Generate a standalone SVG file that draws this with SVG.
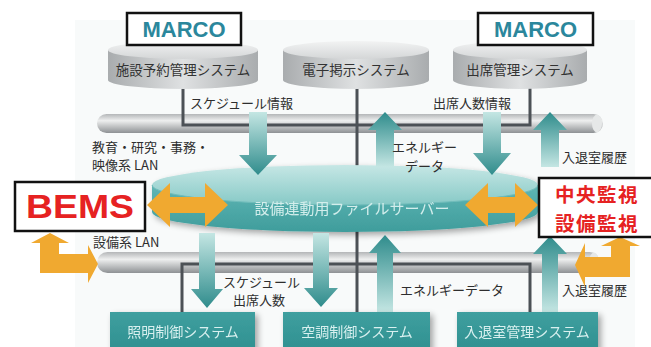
<svg xmlns="http://www.w3.org/2000/svg" width="651" height="347" viewBox="0 0 651 347">
<defs>
<linearGradient id="cylBody" x1="0" y1="0" x2="1" y2="0">
<stop offset="0" stop-color="#a9acae"/><stop offset="0.5" stop-color="#dfe1e2"/><stop offset="1" stop-color="#a9acae"/>
</linearGradient>
<linearGradient id="cylTop" x1="0" y1="0" x2="0" y2="1">
<stop offset="0" stop-color="#f2f3f3"/><stop offset="1" stop-color="#d4d6d7"/>
</linearGradient>
<linearGradient id="pipe" x1="0" y1="0" x2="0" y2="1">
<stop offset="0" stop-color="#b4b6b8"/><stop offset="0.35" stop-color="#eeefef"/><stop offset="0.6" stop-color="#c9cbcc"/><stop offset="1" stop-color="#8e9194"/>
</linearGradient>
<linearGradient id="down" x1="0" y1="0" x2="0" y2="1">
<stop offset="0" stop-color="#c4e6e3"/><stop offset="1" stop-color="#2f8c8c"/>
</linearGradient>
<linearGradient id="up" x1="0" y1="1" x2="0" y2="0">
<stop offset="0" stop-color="#c4e6e3"/><stop offset="1" stop-color="#2f8c8c"/>
</linearGradient>
<linearGradient id="srvSide" x1="0" y1="0" x2="0" y2="1">
<stop offset="0" stop-color="#5fb5b4"/><stop offset="1" stop-color="#3f9d9c"/>
</linearGradient>
<linearGradient id="srvTop" x1="0" y1="0" x2="0" y2="1">
<stop offset="0" stop-color="#c6e7e5"/><stop offset="1" stop-color="#86c9c6"/>
</linearGradient>
<linearGradient id="boxG" x1="0" y1="0" x2="0" y2="1">
<stop offset="0" stop-color="#3f9f9f"/><stop offset="1" stop-color="#2f9090"/>
</linearGradient>
<filter id="sh" x="-10%" y="-20%" width="130%" height="160%">
<feGaussianBlur in="SourceAlpha" stdDeviation="3"/><feOffset dx="3" dy="3"/>
<feComponentTransfer><feFuncA type="linear" slope="0.35"/></feComponentTransfer>
<feMerge><feMergeNode/><feMergeNode in="SourceGraphic"/></feMerge>
</filter>
</defs>
<style>
.jp{font-family:"Noto Sans CJK JP","Noto Sans",sans-serif;}
.lbl{font-size:13px;fill:#2e2e2e;}
.cyl{font-size:13.5px;fill:#333;}
.boxt{font-size:14px;fill:#d8f0ef;}
.line{fill:none;stroke:#4c5156;stroke-width:3;}
.org{fill:#f0a930;}
.frame{fill:#fff;stroke:#111;stroke-width:2.5;}
.red{font-size:19.5px;font-weight:bold;fill:#e62222;letter-spacing:1.5px;}
</style>
<rect x="0" y="0" width="651" height="347" fill="#fff"/>
<rect x="75" y="20" width="560" height="327" fill="#f8fafa"/>

<!-- pipes -->
<g id="lan-upper">
<rect x="97" y="114" width="506" height="19" rx="9.5" fill="url(#pipe)"/>
<ellipse cx="597" cy="123.5" rx="5" ry="9" fill="#e6e8e8"/>
</g>
<g id="lan-lower">
<rect x="97" y="252" width="503" height="21" rx="10.5" fill="url(#pipe)"/>
<ellipse cx="594" cy="262.5" rx="5" ry="10" fill="#e6e8e8"/>
</g>

<!-- connector lines -->
<g id="connectors">
<path class="line" d="M183,86 V125 H530 V86"/>
<path class="line" d="M357,88 V312"/>
<path class="line" d="M182,312 V264 H530 V312"/>
</g>

<!-- top cylinders -->
<g id="cyl-shisetsu">
<path d="M108,50 V80 A75,9 0 0 0 258,80 V50 Z" fill="url(#cylBody)"/>
<ellipse cx="183" cy="50" rx="75" ry="9" fill="url(#cylTop)"/>
<text class="jp cyl" x="183" y="75" text-anchor="middle">施設予約管理システム</text>
</g>
<g id="cyl-denshi">
<path d="M283,50 V80 A73,9 0 0 0 429,80 V50 Z" fill="url(#cylBody)"/>
<ellipse cx="356" cy="50" rx="73" ry="9" fill="url(#cylTop)"/>
<text class="jp cyl" x="356" y="75" text-anchor="middle">電子掲示システム</text>
</g>
<g id="cyl-shusseki">
<path d="M453,50 V80 A67,9 0 0 0 587,80 V50 Z" fill="url(#cylBody)"/>
<ellipse cx="520" cy="50" rx="67" ry="9" fill="url(#cylTop)"/>
<text class="jp cyl" x="520" y="75" text-anchor="middle">出席管理システム</text>
</g>

<!-- MARCO labels -->
<g id="marco1">
<rect class="frame" x="127" y="13" width="114" height="32"/>
<text x="184" y="37" text-anchor="middle" font-family="Liberation Sans,Arial,sans-serif" font-weight="bold" font-size="22" fill="#2b879c">MARCO</text>
</g>
<g id="marco2">
<rect class="frame" x="478" y="13" width="115" height="32"/>
<text x="535.5" y="37" text-anchor="middle" font-family="Liberation Sans,Arial,sans-serif" font-weight="bold" font-size="22" fill="#2b879c">MARCO</text>
</g>

<!-- server -->
<g id="server" filter="url(#sh)">
<path d="M152,185 V212 A193,20 0 0 0 538,212 V185 Z" fill="url(#srvSide)"/>
<ellipse cx="345" cy="185" rx="193" ry="20" fill="url(#srvTop)"/>
<path d="M152,185 A193,20 0 0 0 538,185" fill="none" stroke="#6fbcba" stroke-width="1"/>
<text class="jp" x="352" y="214" text-anchor="middle" font-size="15" fill="#d3eeec">設備連動用ファイルサーバー</text>
</g>

<!-- teal arrows -->
<g id="teal-arrows">
<path d="M249,112 H267 V155 H277 L258,175 L239,155 H249 Z" fill="url(#down)"/>
<path d="M483,112 H501 V153 H511 L492,175 L473,153 H483 Z" fill="url(#down)"/>
<path d="M385,112 L402,130 H394 V167 H376 V130 H368 Z" fill="url(#up)"/>
<path d="M550,112 L567,130 H559 V167 H541 V130 H533 Z" fill="url(#up)"/>
<path d="M199,233 H215 V289 H223 L207,308 L191,289 H199 Z" fill="url(#down)"/>
<path d="M313,233 H329 V288 H338 L321,307 L304,288 H313 Z" fill="url(#down)"/>
<path d="M385,235 L401,253 H393 V312 H377 V253 H369 Z" fill="url(#up)"/>
<path d="M550,236 L567,254 H558 V312 H542 V254 H533 Z" fill="url(#up)"/>
</g>

<!-- bottom boxes -->
<g id="box-shomei" filter="url(#sh)">
<rect x="110" y="312" width="145" height="40" fill="url(#boxG)"/>
<text class="jp boxt" x="183" y="337" text-anchor="middle">照明制御システム</text>
</g>
<g id="box-kucho" filter="url(#sh)">
<rect x="283" y="312" width="147" height="40" fill="url(#boxG)"/>
<text class="jp boxt" x="357" y="337" text-anchor="middle">空調制御システム</text>
</g>
<g id="box-nyutai" filter="url(#sh)">
<rect x="457" y="312" width="141" height="40" fill="url(#boxG)"/>
<text class="jp boxt" x="527" y="337" text-anchor="middle">入退室管理システム</text>
</g>

<!-- labels -->
<g id="labels" class="jp lbl">
<text x="190" y="108">スケジュール情報</text>
<text x="433" y="108">出席人数情報</text>
<text x="92" y="152">教育・研究・事務・</text>
<text x="92" y="170">映像系 LAN</text>
<text x="392" y="152">エネルギー</text>
<text x="405" y="171">データ</text>
<text x="562" y="162">入退室履歴</text>
<text x="93" y="247">設備系 LAN</text>
<text x="223" y="287">スケジュール</text>
<text x="233" y="305">出席人数</text>
<text x="400" y="295">エネルギーデータ</text>
<text x="562" y="295">入退室履歴</text>
</g>

<!-- orange arrows -->
<g id="orange-arrows">
<path class="org" d="M147,205 L170,183 V197 H205 V183 L228,205 L205,227 V213 H170 V227 Z"/>
<path class="org" d="M465,205 L488,183 V197 H515 V183 L538,205 L515,227 V213 H488 V227 Z"/>
<path class="org" d="M50,233 L69,243 H59 V254 H88 V245 L98,264 L88,283 V273 H40 V243 H31 Z"/>
<path class="org" d="M620,237 L640,246 H630 V277 H585 V287 L575,265 L585,243 V257 H611 V246 H601 Z"/>
</g>

<!-- BEMS -->
<g id="bems">
<rect class="frame" x="15" y="182" width="130" height="49"/>
<text x="80" y="218" text-anchor="middle" font-family="Liberation Sans,Arial,sans-serif" font-weight="bold" font-size="34" fill="#e62222" textLength="108" lengthAdjust="spacingAndGlyphs">BEMS</text>
</g>

<!-- central monitoring -->
<g id="chuo">
<rect class="frame" x="539" y="178" width="120" height="59"/>
<text class="jp red" x="597" y="202" text-anchor="middle">中央監視</text>
<text class="jp red" x="597" y="231" text-anchor="middle">設備監視</text>
</g>
</svg>
